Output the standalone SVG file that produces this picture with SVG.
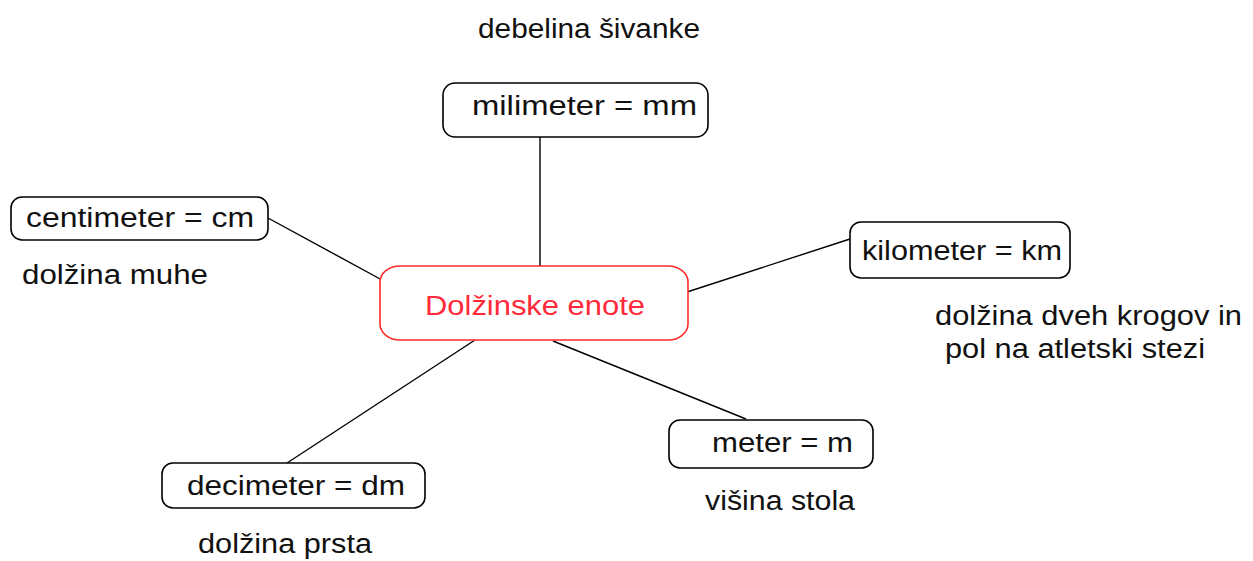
<svg xmlns="http://www.w3.org/2000/svg" width="1253" height="561" viewBox="0 0 1253 561">
<style>
.bg{fill:#ffffff}
.box{fill:#ffffff;stroke:#000000;stroke-width:1.6}
.main{fill:#ffffff;stroke:#ff2a2a;stroke-width:1.6}
.t{font-family:"Liberation Sans",Arial,sans-serif;font-size:27px;fill:#111111}
.tm{font-family:"Liberation Sans",Arial,sans-serif;font-size:27px;fill:#ff2a3a}
.edge{stroke:#000000;stroke-width:1.4;fill:none}
</style>
<rect class="bg" x="0" y="0" width="1253" height="561"/>
<g id="connectors">
<line class="edge" x1="540" y1="137" x2="540" y2="267"/>
<line class="edge" x1="268" y1="218" x2="382" y2="280"/>
<line class="edge" x1="687" y1="292" x2="850" y2="239"/>
<line class="edge" x1="475" y1="340" x2="287" y2="463"/>
<line class="edge" x1="553" y1="341" x2="746" y2="419"/>
</g>
<g id="title">
<text class="t" x="478" y="38" textLength="222" lengthAdjust="spacingAndGlyphs">debelina šivanke</text>
</g>
<g id="node-milimeter">
<rect class="box" x="443" y="83" width="265" height="54" rx="12" ry="12"/>
<text class="t" x="472" y="115" textLength="225" lengthAdjust="spacingAndGlyphs">milimeter  = mm</text>
</g>
<g id="node-centimeter">
<rect class="box" x="11" y="197" width="257" height="43" rx="11" ry="11"/>
<text class="t" x="26" y="227" textLength="228" lengthAdjust="spacingAndGlyphs">centimeter = cm</text>
<text class="t" x="22" y="284" textLength="186" lengthAdjust="spacingAndGlyphs">dolžina muhe</text>
</g>
<g id="node-center">
<rect class="main" x="380" y="266" width="308" height="74" rx="20" ry="16"/>
<text class="tm" x="425" y="315" textLength="220" lengthAdjust="spacingAndGlyphs">Dolžinske enote</text>
</g>
<g id="node-kilometer">
<rect class="box" x="850" y="222" width="220" height="56" rx="11" ry="11"/>
<text class="t" x="862" y="260" textLength="200" lengthAdjust="spacingAndGlyphs">kilometer = km</text>
<text class="t" x="935" y="325" textLength="307" lengthAdjust="spacingAndGlyphs">dolžina dveh krogov in</text>
<text class="t" x="945" y="358" textLength="260" lengthAdjust="spacingAndGlyphs">pol na atletski stezi</text>
</g>
<g id="node-decimeter">
<rect class="box" x="162" y="463" width="263" height="45" rx="11" ry="11"/>
<text class="t" x="187" y="495" textLength="218" lengthAdjust="spacingAndGlyphs">decimeter = dm</text>
<text class="t" x="198" y="553" textLength="174" lengthAdjust="spacingAndGlyphs">dolžina prsta</text>
</g>
<g id="node-meter">
<rect class="box" x="669" y="420" width="204" height="48" rx="11" ry="11"/>
<text class="t" x="712" y="452" textLength="141" lengthAdjust="spacingAndGlyphs">meter = m</text>
<text class="t" x="705" y="510" textLength="150" lengthAdjust="spacingAndGlyphs">višina stola</text>
</g>
</svg>
